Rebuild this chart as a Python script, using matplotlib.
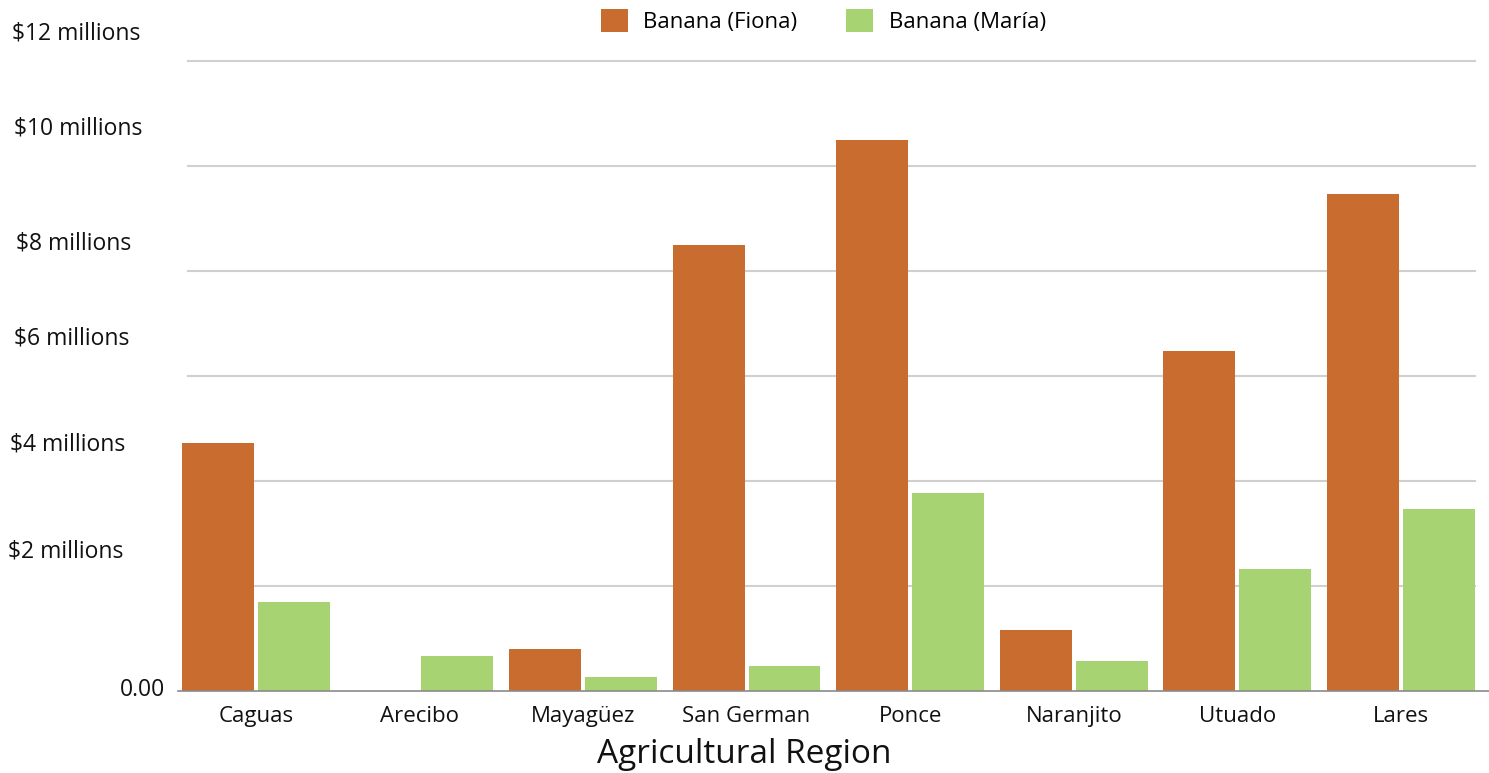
import matplotlib.pyplot as plt
import matplotlib.transforms as mtransforms
import numpy as np

plt.rcParams['font.family'] = ['Open Sans', 'DejaVu Sans']

# Data (millions of dollars)
regions = ['Caguas', 'Arecibo', 'Mayagüez', 'San German', 'Ponce', 'Naranjito', 'Utuado', 'Lares']
fiona = [4.72, 0.0, 0.80, 8.50, 10.50, 1.16, 6.48, 9.47]
maria = [1.70, 0.67, 0.27, 0.48, 3.77, 0.57, 2.32, 3.47]
y_labels = ['$12 millions', '$10 millions', '$8 millions', '$6 millions',
            '$4 millions', '$2 millions']
grid_values = [2, 4, 6, 8, 10, 12]

orange = '#C96C30'
green = '#A8D373'

fig = plt.figure(figsize=(14.89, 7.73), dpi=100)
ax = fig.add_axes([0.1195, 0.106, 0.873, 0.842])

x = np.arange(len(regions))
w = 0.439
off = 0.232
ax.bar(x - off, fiona, w, color=orange, label='Banana (Fiona)', zorder=3)
ax.bar(x + off, maria, w, color=green, label='Banana (María)', zorder=3)

ax.set_xlim(-0.476, 7.47)
ax.set_ylim(0, 12.4)

# light gridlines
for g in grid_values:
    ax.plot([0.008, 0.998], [g, g], transform=ax.get_yaxis_transform(),
            color='#d0d0d0', lw=1.5, zorder=1)
ax.plot([0, 1.01], [0, 0], transform=ax.get_yaxis_transform(), color='#8a8a8a',
        lw=1.2, zorder=4, clip_on=False)

for s in ax.spines.values():
    s.set_visible(False)
ax.set_yticks([])
ax.set_xticks(x)
ax.set_xticklabels(regions, fontsize=16, color='#111111')
ax.tick_params(axis='x', length=0, pad=11)

fig.text(0.5, 0.003, 'Agricultural Region', fontsize=24, color='#111111',
         ha='center', va='bottom')

# y labels (offset from gridlines as in the original)
label_y = [12.53, 10.72, 8.53, 6.72, 4.69, 2.65]
label_x = [12, 14, 16, 14, 10, 8]
tr = mtransforms.blended_transform_factory(fig.transFigure, ax.transData)
for lab, yv, xp in zip(y_labels, label_y, label_x):
    ax.text(xp / 1489, yv, lab, transform=tr, fontsize=16.5, color='#111111',
            ha='left', va='center', clip_on=False)
ax.text(165 / 1489, 0.02, '0.00', transform=tr, fontsize=16.5, color='#111111',
        ha='right', va='center', clip_on=False)

fig.legend(loc='upper center', bbox_to_anchor=(0.553, 1.014), ncol=2, frameon=False,
           fontsize=16, handlelength=1.2, handleheight=1.2, columnspacing=2.2,
           handletextpad=0.7)

plt.savefig('out.png', dpi=100)
